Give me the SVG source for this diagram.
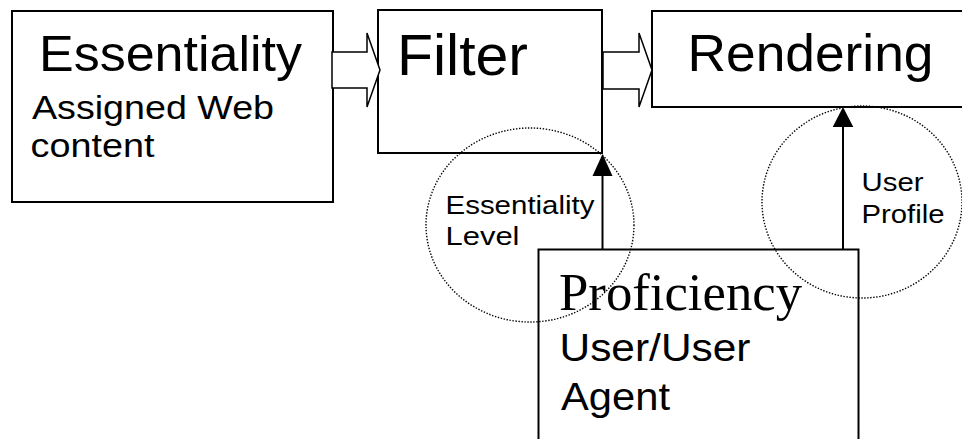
<svg xmlns="http://www.w3.org/2000/svg" width="962" height="439" viewBox="0 0 962 439">
  <style>
    .box { fill: #ffffff; stroke: #000000; stroke-width: 2; }
    .block { fill: #ffffff; stroke: #000000; stroke-width: 1.5; stroke-linejoin: miter; }
    .ring { fill: none; stroke: #000000; stroke-width: 1.4; stroke-dasharray: 1.4 1.6; }
    .wire { stroke: #000000; stroke-width: 2; fill: none; }
    .head { fill: #000000; stroke: none; }
    .sans { font-family: "Liberation Sans", Arial, sans-serif; fill: #000000; }
    .serif { font-family: "Liberation Serif", "Times New Roman", serif; fill: #000000; }
  </style>
  <rect width="962" height="439" fill="#ffffff"/>

  <!-- source content -->
  <g id="essentiality">
    <rect class="box" x="12" y="11" width="321" height="191"/>
    <text class="sans" x="39" y="70.5" font-size="50" textLength="263" lengthAdjust="spacingAndGlyphs">Essentiality</text>
    <text class="sans" x="32" y="119" font-size="33" textLength="242" lengthAdjust="spacingAndGlyphs">Assigned Web</text>
    <text class="sans" x="30.5" y="157" font-size="33" textLength="124" lengthAdjust="spacingAndGlyphs">content</text>
  </g>

  <!-- filter stage -->
  <g id="filter">
    <rect class="box" x="378" y="10" width="224" height="143"/>
    <text class="sans" x="397" y="75" font-size="58" textLength="131" lengthAdjust="spacingAndGlyphs">Filter</text>
  </g>

  <!-- rendering stage, runs past the right edge -->
  <g id="rendering">
    <rect class="box" x="652" y="11" width="330" height="96"/>
    <text class="sans" x="687.5" y="70.7" font-size="52" textLength="246" lengthAdjust="spacingAndGlyphs">Rendering</text>
  </g>

  <!-- user side, runs past the bottom edge -->
  <g id="proficiency">
    <rect class="box" x="538.5" y="249.5" width="320" height="220"/>
    <text class="serif" x="559" y="310" font-size="53" textLength="243" lengthAdjust="spacingAndGlyphs">Proficiency</text>
    <text class="sans" x="559.5" y="360.7" font-size="39" textLength="191" lengthAdjust="spacingAndGlyphs">User/User</text>
    <text class="sans" x="561" y="410" font-size="39" textLength="109" lengthAdjust="spacingAndGlyphs">Agent</text>
  </g>

  <!-- dotted callouts with their labels -->
  <g id="essentiality-level">
    <ellipse class="ring" cx="530" cy="225" rx="104" ry="97"/>
    <text class="sans" x="445.5" y="213.5" font-size="26" textLength="149" lengthAdjust="spacingAndGlyphs">Essentiality</text>
    <text class="sans" x="445.5" y="245" font-size="26" textLength="74" lengthAdjust="spacingAndGlyphs">Level</text>
  </g>
  <g id="user-profile">
    <ellipse class="ring" cx="862" cy="202" rx="100" ry="96"/>
    <text class="sans" x="861.5" y="190.7" font-size="26" textLength="62" lengthAdjust="spacingAndGlyphs">User</text>
    <text class="sans" x="861.5" y="222.7" font-size="26" textLength="83" lengthAdjust="spacingAndGlyphs">Profile</text>
  </g>

  <!-- connectors -->
  <g id="connectors">
    <polygon class="block" points="332,52 367,52 367,33 380,70 367,107 367,88 332,88"/>
    <polygon class="block" points="603,52 639,52 639,33 652,70 639,107 639,89 603,89"/>
    <line class="wire" x1="602.5" y1="249" x2="602.5" y2="174"/>
    <polygon class="head" points="602.5,154 592.5,176 612.5,176"/>
    <line class="wire" x1="843" y1="249" x2="843" y2="125"/>
    <polygon class="head" points="843,107 832.7,127 853.3,127"/>
  </g>
</svg>
